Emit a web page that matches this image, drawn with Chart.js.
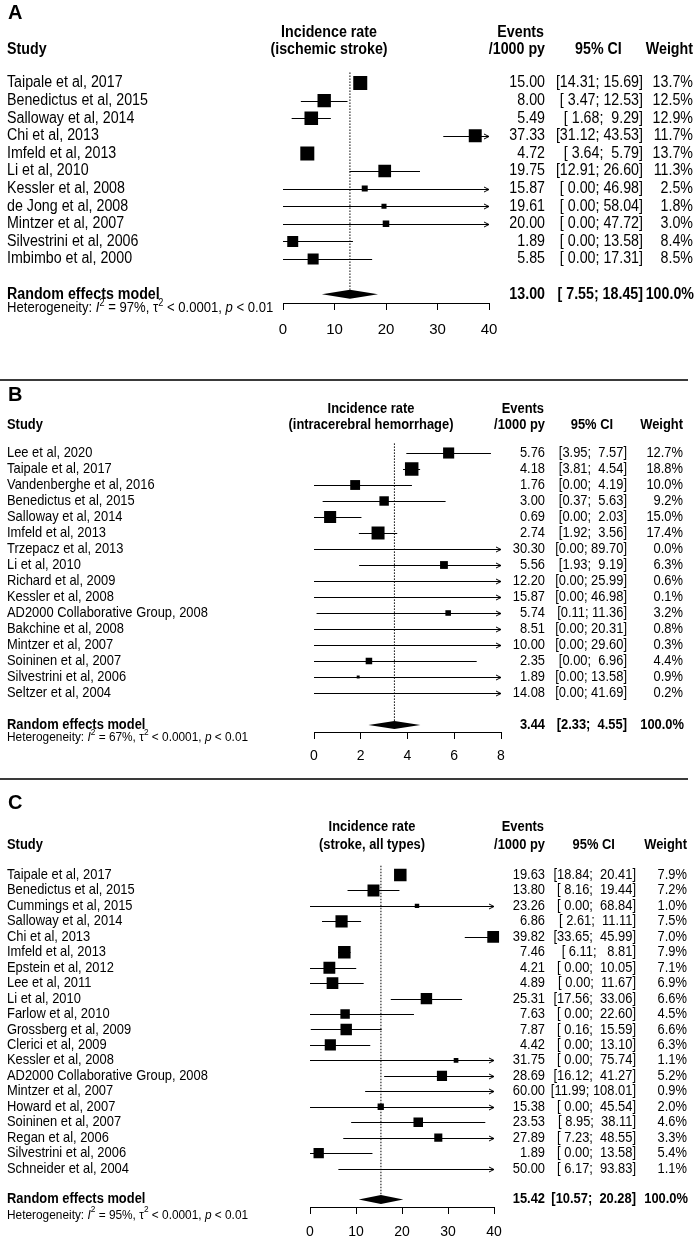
<!DOCTYPE html>
<html>
<head>
<meta charset="utf-8">
<script src="https://cdn.jsdelivr.net/npm/chart.js@4.4.1/dist/chart.umd.min.js"></script>
<style>
body { margin: 0; background: #fff; }
#wrap { position: relative; width: 697px; height: 1239px; }
canvas { position: absolute; left: 0; }
.sep { position: absolute; left: 0; width: 688px; height: 2px; background: #3a3a3a; }
</style>
</head>
<body>
<div id="wrap">
  <canvas id="chartA" width="697" height="380" style="top:0"></canvas>
  <div class="sep" style="top:379px"></div>
  <canvas id="chartB" width="697" height="399" style="top:380px"></canvas>
  <div class="sep" style="top:778px"></div>
  <canvas id="chartC" width="697" height="460" style="top:779px"></canvas>
</div>
<script>
// A - ischemic stroke
var studiesA = ['Taipale et al, 2017', 'Benedictus et al, 2015', 'Salloway et al, 2014', 'Chi et al, 2013',
    'Imfeld et al, 2013', 'Li et al, 2010', 'Kessler et al, 2008', 'de Jong et al, 2008',
    'Mintzer et al, 2007', 'Silvestrini et al, 2006', 'Imbimbo et al, 2000'];
var rateA = [15.00, 8.00, 5.49, 37.33, 4.72, 19.75, 15.87, 19.61, 20.00, 1.89, 5.85];
var lowA = [14.31, 3.47, 1.68, 31.12, 3.64, 12.91, 0.00, 0.00, 0.00, 0.00, 0.00];
var highA = [15.69, 12.53, 9.29, 43.53, 5.79, 26.60, 46.98, 58.04, 47.72, 13.58, 17.31];
var weightA = [13.7, 12.5, 12.9, 11.7, 13.7, 11.3, 2.5, 1.8, 3.0, 8.4, 8.5];
var pooledA = [13.00, 7.55, 18.45];
var hetA = ['97%', '0.0001', '0.01'];
var ticksA = [0, 10, 20, 30, 40];

// B - intracerebral hemorrhage
var studiesB = ['Lee et al, 2020', 'Taipale et al, 2017', 'Vandenberghe et al, 2016', 'Benedictus et al, 2015',
    'Salloway et al, 2014', 'Imfeld et al, 2013', 'Trzepacz et al, 2013', 'Li et al, 2010',
    'Richard et al, 2009', 'Kessler et al, 2008', 'AD2000 Collaborative Group, 2008', 'Bakchine et al, 2008',
    'Mintzer et al, 2007', 'Soininen et al, 2007', 'Silvestrini et al, 2006', 'Seltzer et al, 2004'];
var rateB = [5.76, 4.18, 1.76, 3.00, 0.69, 2.74, 30.30, 5.56, 12.20, 15.87, 5.74, 8.51, 10.00, 2.35, 1.89, 14.08];
var lowB = [3.95, 3.81, 0.00, 0.37, 0.00, 1.92, 0.00, 1.93, 0.00, 0.00, 0.11, 0.00, 0.00, 0.00, 0.00, 0.00];
var highB = [7.57, 4.54, 4.19, 5.63, 2.03, 3.56, 89.70, 9.19, 25.99, 46.98, 11.36, 20.31, 29.60, 6.96, 13.58, 41.69];
var weightB = [12.7, 18.8, 10.0, 9.2, 15.0, 17.4, 0.0, 6.3, 0.6, 0.1, 3.2, 0.8, 0.3, 4.4, 0.9, 0.2];
var pooledB = [3.44, 2.33, 4.55];
var hetB = ['67%', '0.0001', '0.01'];
var ticksB = [0, 2, 4, 6, 8];

// C - stroke, all types
var studiesC = ['Taipale et al, 2017', 'Benedictus et al, 2015', 'Cummings et al, 2015', 'Salloway et al, 2014',
    'Chi et al, 2013', 'Imfeld et al, 2013', 'Epstein et al, 2012', 'Lee et al, 2011', 'Li et al, 2010',
    'Farlow et al, 2010', 'Grossberg et al, 2009', 'Clerici et al, 2009', 'Kessler et al, 2008',
    'AD2000 Collaborative Group, 2008', 'Mintzer et al, 2007', 'Howard et al, 2007', 'Soininen et al, 2007',
    'Regan et al, 2006', 'Silvestrini et al, 2006', 'Schneider et al, 2004'];
var rateC = [19.63, 13.80, 23.26, 6.86, 39.82, 7.46, 4.21, 4.89, 25.31, 7.63, 7.87, 4.42, 31.75, 28.69, 60.00,
    15.38, 23.53, 27.89, 1.89, 50.00];
var lowC = [18.84, 8.16, 0.00, 2.61, 33.65, 6.11, 0.00, 0.00, 17.56, 0.00, 0.16, 0.00, 0.00, 16.12, 11.99,
    0.00, 8.95, 7.23, 0.00, 6.17];
var highC = [20.41, 19.44, 68.84, 11.11, 45.99, 8.81, 10.05, 11.67, 33.06, 22.60, 15.59, 13.10, 75.74, 41.27,
    108.01, 45.54, 38.11, 48.55, 13.58, 93.83];
var weightC = [7.9, 7.2, 1.0, 7.5, 7.0, 7.9, 7.1, 6.9, 6.6, 4.5, 6.6, 6.3, 1.1, 5.2, 0.9, 2.0, 4.6, 3.3, 5.4, 1.1];
var pooledC = [15.42, 10.57, 20.28];
var hetC = ['95%', '0.0001', '0.01'];
var ticksC = [0, 10, 20, 30, 40];

var FONT = '"Liberation Sans", Arial, sans-serif';
var SX = 0.89; // the original figure is squeezed sideways

function txt(ctx, s, x, y, align, size, bold, sx) {
    ctx.save();
    ctx.font = (bold ? 'bold ' : '') + size + 'px ' + FONT;
    ctx.textAlign = align;
    ctx.textBaseline = 'middle';
    ctx.fillStyle = '#000';
    ctx.translate(x, y);
    ctx.scale(sx || SX, 1);
    ctx.fillText(s, 0, 0);
    ctx.restore();
}

function textWidth(ctx, s, size, bold) {
    ctx.save();
    ctx.font = (bold ? 'bold ' : '') + size + 'px ' + FONT;
    var w = ctx.measureText(s).width * SX;
    ctx.restore();
    return w;
}

function hetText(ctx, het, x, y, size) {
    var parts = [['Heterogeneity: ', ''], ['I', 'i'], ['2', 's'], [' = ' + het[0] + ', ', ''], ['\u03c4', ''],
        ['2', 's'], [' < ' + het[1] + ', ', ''], ['p', 'i'], [' < ' + het[2], '']];
    ctx.save();
    ctx.translate(x, y);
    ctx.scale(SX, 1);
    ctx.textAlign = 'left';
    ctx.textBaseline = 'middle';
    ctx.fillStyle = '#000';
    var cx = 0;
    parts.forEach(function (p) {
        var sz = p[1] == 's' ? size * 0.7 : size;
        ctx.font = (p[1] == 'i' ? 'italic ' : '') + sz + 'px ' + FONT;
        ctx.fillText(p[0], cx, p[1] == 's' ? -size * 0.38 : 0);
        cx += ctx.measureText(p[0]).width;
    });
    ctx.restore();
}

function pad(s, n) {
    while (s.length < n) s = ' ' + s;
    return s;
}

function forest(p) {
    var n = p.studies.length;
    var re = n + 1;
    var allLow = p.low.concat([p.pooled[1]]).map(function (v) { return v.toFixed(2); });
    var allHigh = p.high.concat([p.pooled[2]]).map(function (v) { return v.toFixed(2); });
    var wLo = Math.max.apply(null, allLow.map(function (s) { return s.length; }));
    var wHi = Math.max.apply(null, allHigh.map(function (s) { return s.length; }));
    var ciText = allLow.map(function (lo, i) { return '[' + pad(lo, wLo) + '; ' + pad(allHigh[i], wHi) + ']'; });

    var maxW = Math.max.apply(null, p.weight);
    var radii = p.weight.map(function (w) { return p.boxMax * Math.sqrt(w / maxW) / Math.SQRT2; });
    var pts = p.rate.map(function (v, i) { return { x: v, y: i }; });
    var axisH = Math.min(45, p.height - p.axisY);

    var drawing = {
        id: 'forest' + p.letter,
        beforeDatasetsDraw: function (chart) {
            var ctx = chart.ctx, xs = chart.scales.x, ys = chart.scales.y;
            var xmin = xs.min, xmax = xs.max;
            ctx.save();
            ctx.strokeStyle = '#000';
            ctx.fillStyle = '#000';
            ctx.lineWidth = 1;

            // dotted line at the pooled estimate
            var xr = xs.getPixelForValue(p.pooled[0]);
            ctx.setLineDash([1.5, 1.5]);
            ctx.beginPath();
            ctx.moveTo(xr, ys.getPixelForValue(-0.6));
            ctx.lineTo(xr, ys.getPixelForValue(re) - p.dh);
            ctx.stroke();
            ctx.setLineDash([]);

            // confidence intervals
            p.low.forEach(function (lo, i) {
                var y = Math.round(ys.getPixelForValue(i)) + 0.5;
                var x1 = xs.getPixelForValue(Math.max(lo, xmin));
                var x2 = xs.getPixelForValue(Math.min(p.high[i], xmax));
                ctx.beginPath();
                ctx.moveTo(x1, y);
                ctx.lineTo(x2, y);
                ctx.stroke();
                if (p.high[i] > xmax) {
                    ctx.beginPath();
                    ctx.moveTo(x2 - 5, y - 2.5);
                    ctx.lineTo(x2, y);
                    ctx.lineTo(x2 - 5, y + 2.5);
                    ctx.stroke();
                }
            });

            // diamond
            var yd = ys.getPixelForValue(re);
            ctx.beginPath();
            ctx.moveTo(xs.getPixelForValue(p.pooled[1]), yd);
            ctx.lineTo(xr, yd - p.dh);
            ctx.lineTo(xs.getPixelForValue(p.pooled[2]), yd);
            ctx.lineTo(xr, yd + p.dh);
            ctx.closePath();
            ctx.fill();
            ctx.restore();
        },
        afterDraw: function (chart) {
            var ctx = chart.ctx, ys = chart.scales.y;
            var fs = p.font;
            var ciW = textWidth(ctx, ciText[0], fs, false);
            txt(ctx, p.letter, 8, p.letterY, 'left', 20, true, 1);
            txt(ctx, 'Study', 7, p.head2, 'left', fs, true);
            txt(ctx, 'Incidence rate', p.irX, p.head1, 'center', fs, true);
            txt(ctx, '(' + p.sub + ')', p.irX, p.head2, 'center', fs, true);
            txt(ctx, 'Events', p.valX - 1, p.head1, 'right', fs, true);
            txt(ctx, '/1000 py', p.valX, p.head2, 'right', fs, true);
            txt(ctx, '95% CI', p.ciR - ciW / 2 - 1, p.head2, 'center', fs, true);
            txt(ctx, 'Weight', p.wX, p.head2, 'right', fs, true);

            p.studies.forEach(function (s, i) {
                var y = ys.getPixelForValue(i);
                txt(ctx, s, 7, y, 'left', fs, false);
                txt(ctx, p.rate[i].toFixed(2), p.valX, y, 'right', fs, false);
                txt(ctx, ciText[i], p.ciR, y, 'right', fs, false);
                txt(ctx, p.weight[i].toFixed(1) + '%', p.wX, y, 'right', fs, false);
            });

            var yr = ys.getPixelForValue(re);
            txt(ctx, 'Random effects model', 7, yr, 'left', fs, true);
            txt(ctx, p.pooled[0].toFixed(2), p.valX, yr, 'right', fs, true);
            txt(ctx, ciText[n], p.ciR, yr, 'right', fs, true);
            txt(ctx, '100.0%', p.wX + 1, yr, 'right', fs, true);
            hetText(ctx, p.het, 7, ys.getPixelForValue(re + p.hetOff), fs * 0.92);
        }
    };

    new Chart(document.getElementById('chart' + p.letter), {
        type: 'scatter',
        data: {
            datasets: [{
                data: pts,
                pointStyle: 'rect',
                pointRadius: radii,
                pointHoverRadius: radii,
                backgroundColor: '#000',
                borderWidth: 0,
                clip: { left: 8, right: 8, top: 30, bottom: 30 }
            }]
        },
        options: {
            responsive: false,
            animation: false,
            events: [],
            layout: {
                autoPadding: false,
                padding: { left: p.left, right: 697 - p.right, top: p.first - p.step, bottom: p.height - p.axisY - axisH }
            },
            plugins: { legend: { display: false }, tooltip: { enabled: false } },
            scales: {
                x: {
                    type: 'linear',
                    min: p.ticks[0],
                    max: p.ticks[p.ticks.length - 1],
                    afterBuildTicks: function (s) { s.ticks = p.ticks.map(function (v) { return { value: v }; }); },
                    afterFit: function (s) { s.height = axisH; },
                    grid: { drawOnChartArea: false, drawTicks: true, tickLength: 7, color: '#000' },
                    border: { color: '#000', width: 1 },
                    ticks: { color: '#000', padding: p.tickPad, maxRotation: 0, autoSkip: false,
                        font: { family: FONT, size: p.tickSize } }
                },
                y: {
                    type: 'linear', display: false, reverse: true,
                    min: -1, max: (p.axisY - p.first) / p.step
                }
            }
        },
        plugins: [drawing]
    });
}

forest({
    letter: 'A', sub: 'ischemic stroke', studies: studiesA, rate: rateA, low: lowA, high: highA,
    weight: weightA, pooled: pooledA, het: hetA, ticks: ticksA,
    height: 380, left: 283, right: 489, first: 83, step: 17.6, axisY: 303, tickSize: 15, tickPad: 11,
    boxMax: 14, dh: 4.5, font: 16, letterY: 13, head1: 33, head2: 50, hetOff: 0.8,
    irX: 329, valX: 545, ciR: 643, wX: 693
});

forest({
    letter: 'B', sub: 'intracerebral hemorrhage', studies: studiesB, rate: rateB, low: lowB, high: highB,
    weight: weightB, pooled: pooledB, het: hetB, ticks: ticksB,
    height: 399, left: 314, right: 501, first: 73, step: 16, axisY: 352, tickSize: 14, tickPad: 9,
    boxMax: 13.5, dh: 4, font: 14.5, letterY: 15, head1: 29, head2: 45, hetOff: 0.75,
    irX: 371, valX: 545, ciR: 627, wX: 683
});

forest({
    letter: 'C', sub: 'stroke, all types', studies: studiesC, rate: rateC, low: lowC, high: highC,
    weight: weightC, pooled: pooledC, het: hetC, ticks: ticksC,
    height: 460, left: 310, right: 494, first: 96, step: 15.45, axisY: 428, tickSize: 14, tickPad: 10,
    boxMax: 12.5, dh: 4.5, font: 14.5, letterY: 24, head1: 48, head2: 66, hetOff: 1.0,
    irX: 372, valX: 545, ciR: 636, wX: 687
});
</script>
</body>
</html>
